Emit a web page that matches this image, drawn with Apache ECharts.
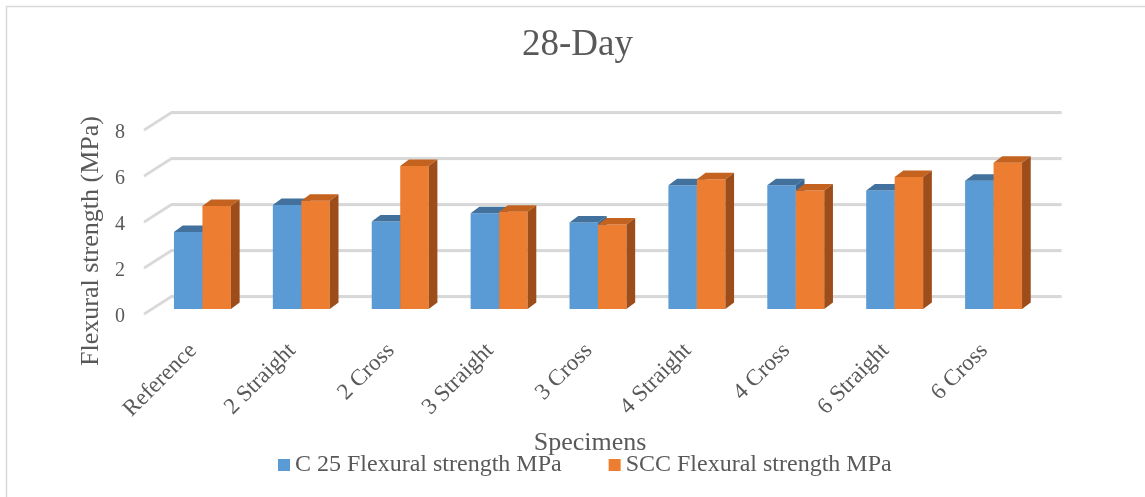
<!DOCTYPE html>
<html>
<head>
<meta charset="utf-8">
<script src="https://cdn.jsdelivr.net/npm/echarts@6/dist/echarts.min.js"></script>
<style>
  html, body { margin: 0; padding: 0; background: #fff; }
  #main { width: 1145px; height: 497px; }
</style>
</head>
<body>
<div id="main"></div>
<script>
const categories = ['Reference', '2 Straight', '2 Cross', '3 Straight', '3 Cross', '4 Straight', '4 Cross', '6 Straight', '6 Cross'];
const c25Values = [3.35, 4.52, 3.80, 4.16, 3.76, 5.38, 5.38, 5.15, 5.58];
const sccValues = [4.48, 4.71, 6.22, 4.23, 3.67, 5.64, 5.15, 5.74, 6.36];
const yTicks = [0, 2, 4, 6, 8];
const seriesNames = ['C 25 Flexural strength MPa', 'SCC Flexural strength MPa'];

const FONT = '"Liberation Serif", "Times New Roman", serif';
const TEXT = '#595959';

// oblique "3d" offsets in px
const BAR_DX = 8.7, BAR_DY = -6.5;
const BACK_DX = 18.5, BACK_DY = -13;
const FRONT_DX = -9, FRONT_DY = 4.5;
const BAR_FRAC = 0.288;

// draws one box: front face, top face, right side
const boxRenderer = (slot, front, top, side) => (params, api) => {
  const c = api.coord([api.value(0), api.value(1)]);
  const base = api.coord([api.value(0), 0]);
  const w = api.size([1, 0])[0] * BAR_FRAC;
  const x = slot === 0 ? c[0] - w : c[0];
  const yt = c[1], yb = base[1];
  return {
    type: 'group',
    children: [
      { type: 'rect', shape: { x, y: yt, width: w, height: yb - yt }, style: { fill: front } },
      {
        type: 'polygon',
        shape: { points: [[x, yt], [x + w, yt], [x + w + BAR_DX, yt + BAR_DY], [x + BAR_DX, yt + BAR_DY]] },
        style: { fill: top }
      },
      {
        type: 'polygon',
        shape: { points: [[x + w, yt], [x + w + BAR_DX, yt + BAR_DY], [x + w + BAR_DX, yb + BAR_DY], [x + w, yb]] },
        style: { fill: side }
      }
    ]
  };
};

// back wall gridline with the short diagonal on the left
const gridRenderer = (params, api) => {
  const cs = params.coordSys;
  const y = api.coord([0, api.value(1)])[1];
  return {
    type: 'polyline',
    shape: {
      points: [
        [cs.x + FRONT_DX, y + FRONT_DY],
        [cs.x + BACK_DX, y + BACK_DY],
        [cs.x + cs.width + BACK_DX, y + BACK_DY]
      ]
    },
    style: {
      fill: null,
      stroke: '#d9d9d9',
      lineWidth: 2,
      shadowColor: 'rgba(0,0,0,0.18)',
      shadowBlur: 1,
      shadowOffsetY: 1
    }
  };
};

const chart = echarts.init(document.getElementById('main'));

chart.setOption({
  animation: false,
  textStyle: { fontFamily: FONT, color: TEXT },
  title: {
    text: '28-Day',
    left: 522,
    top: 27,
    padding: 0,
    textStyle: { fontFamily: FONT, fontSize: 37, fontWeight: 'normal', color: TEXT }
  },
  graphic: [
    {
      type: 'rect',
      shape: { x: 6.5, y: 6.5, width: 1300, height: 700 },
      style: { fill: null, stroke: '#d9d9d9', lineWidth: 1.5 },
      silent: true
    }
  ],
  legend: {
    data: seriesNames,
    left: 273,
    top: 448,
    itemWidth: 12,
    itemHeight: 12,
    itemGap: 47,
    icon: 'rect',
    textStyle: { fontFamily: FONT, fontSize: 24, color: TEXT }
  },
  grid: {
    left: 153,
    right: 102,
    top: 125,
    bottom: 188
  },
  xAxis: {
    type: 'category',
    data: categories,
    name: 'Specimens',
    nameLocation: 'middle',
    nameGap: 121,
    nameTextStyle: { fontFamily: FONT, fontSize: 26, color: TEXT, padding: [0, 16, 0, 0] },
    axisLine: { show: false },
    axisTick: { show: false },
    axisLabel: {
      rotate: 45,
      margin: 29,
      interval: 0,
      fontFamily: FONT,
      fontSize: 23,
      color: TEXT,
      formatter: v => v + '{pad|}',
      rich: { pad: { width: 13 } }
    }
  },
  yAxis: {
    type: 'value',
    min: 0,
    max: 8,
    interval: 2,
    name: 'Flexural strength (MPa)',
    nameLocation: 'middle',
    nameGap: 38,
    nameTextStyle: { fontFamily: FONT, fontSize: 26, color: TEXT, padding: [0, 48, 0, 0] },
    axisLine: { show: false },
    axisTick: { show: false },
    splitLine: { show: false },
    axisLabel: {
      margin: 28,
      verticalAlign: 'top',
      lineHeight: 15,
      fontFamily: FONT,
      fontSize: 20,
      color: TEXT
    }
  },
  series: [
    {
      type: 'custom',
      name: 'grid',
      silent: true,
      z: 1,
      renderItem: gridRenderer,
      data: yTicks.map(v => [0, v])
    },
    {
      type: 'custom',
      name: seriesNames[0],
      z: 2,
      itemStyle: { color: '#5B9BD5' },
      renderItem: boxRenderer(0, '#5B9BD5', '#41719C', '#3A6690'),
      data: c25Values.map((v, i) => [i, v])
    },
    {
      type: 'custom',
      name: seriesNames[1],
      z: 3,
      itemStyle: { color: '#ED7D31' },
      renderItem: boxRenderer(1, '#ED7D31', '#C4621F', '#9C4D1A'),
      data: sccValues.map((v, i) => [i, v])
    }
  ]
});
</script>
</body>
</html>
